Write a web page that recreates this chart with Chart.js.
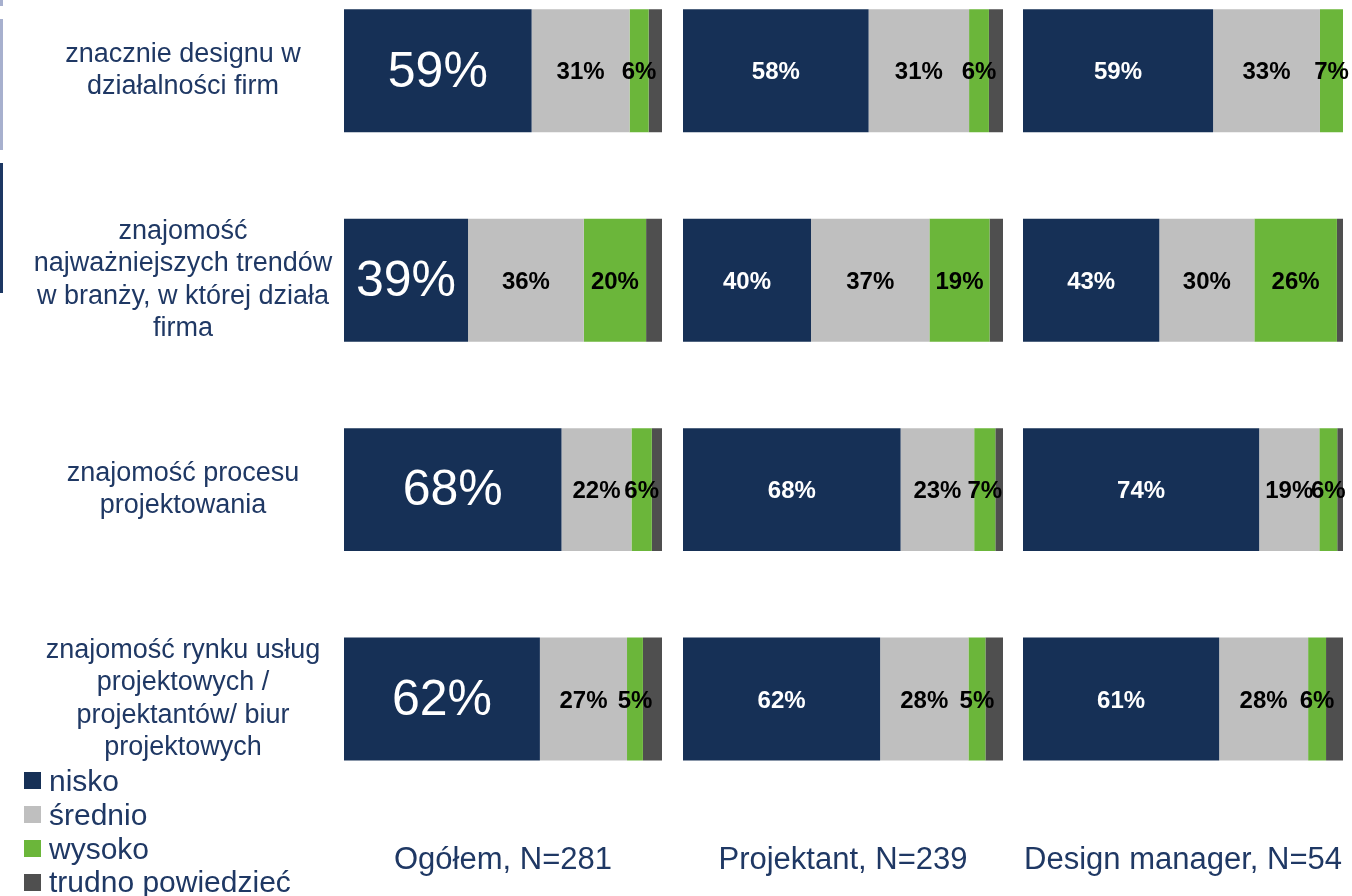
<!DOCTYPE html>
<html><head><meta charset="utf-8">
<script src="https://cdn.jsdelivr.net/npm/chart.js@4/dist/chart.umd.min.js"></script>
<style>
html,body{margin:0;padding:0;background:#fff;width:1352px;height:896px;overflow:hidden;position:relative;font-family:"Liberation Sans",Arial,sans-serif;}
.box{position:absolute;}
.deco{position:absolute;left:0;width:3px;}
#legend{position:absolute;left:24px;top:764px;color:#1F3864;font-size:30px;}
#legend div{display:flex;align-items:center;height:33.8px;white-space:nowrap;}
#legend span.sw{width:17px;height:17px;margin-right:8px;display:inline-block;flex:none;}
</style></head><body>
<div class="deco" style="top:0;height:6px;background:#A7B0CE"></div>
<div class="deco" style="top:19px;height:131px;background:#A7B0CE"></div>
<div class="deco" style="top:163px;height:130px;background:#1C3763"></div>
<div class="box" style="left:0;top:-34px;width:672px;height:930px"><canvas id="c1"></canvas></div>
<div class="box" style="left:673px;top:-34px;width:340px;height:930px"><canvas id="c2"></canvas></div>
<div class="box" style="left:1013px;top:-34px;width:339px;height:930px"><canvas id="c3"></canvas></div>
<div id="legend"></div>
<script>
const categories = [
  ["znacznie designu w", "działalności firm"],
  ["znajomość", "najważniejszych trendów", "w branży, w której działa", "firma"],
  ["znajomość procesu", "projektowania"],
  ["znajomość rynku usług", "projektowych /", "projektantów/ biur", "projektowych"]
];
const panelTitles = ["Ogółem, N=281", "Projektant, N=239", "Design manager, N=54"];
const seriesNames = ["nisko", "średnio", "wysoko", "trudno powiedzieć"];

const ogolemNisko   = [59, 39, 68.4, 61.6];
const ogolemSrednio = [30.8, 36.4, 22, 27.4];
const ogolemWysoko  = [6, 19.6, 6.4, 5];
const ogolemTrudno  = [4.2, 5, 3.2, 6];

const projektantNisko   = [58, 40, 68, 61.6];
const projektantSrednio = [31.4, 37, 23, 27.6];
const projektantWysoko  = [6.2, 18.8, 6.6, 5.3];
const projektantTrudno  = [4.4, 4.2, 2.4, 5.5];

const managerNisko   = [59.4, 42.6, 73.8, 61.3];
const managerSrednio = [33.4, 29.7, 18.8, 27.8];
const managerWysoko  = [7.2, 25.8, 5.6, 5.6];
const managerTrudno  = [0, 1.9, 1.8, 5.3];

const colors = ["#163056", "#BFBFBF", "#6BB63A", "#4F4F4F"];
const textColor = "#1F3864";
const FONT = '"Liberation Sans", Arial, sans-serif';

// legend (HTML)
const lg = document.getElementById('legend');
seriesNames.forEach((n, i) => {
  const d = document.createElement('div');
  d.innerHTML = '<span class="sw" style="background:' + colors[i] + '"></span>' + n;
  lg.appendChild(d);
});

const segLabels = {
  id: 'segLabels',
  afterDatasetsDraw(chart, args, opts) {
    const ctx = chart.ctx;
    chart.data.datasets.forEach((ds, di) => {
      if (di > 2) return;
      const meta = chart.getDatasetMeta(di);
      meta.data.forEach((el, i) => {
        const v = ds.data[i];
        if (!v) return;
        const cx = (el.x + el.base) / 2;
        const big = di === 0 && opts.bigFirst;
        ctx.save();
        ctx.font = big ? ('50px ' + FONT) : ('bold 24px ' + FONT);
        ctx.fillStyle = di === 0 ? '#FFFFFF' : '#000000';
        ctx.textAlign = 'center';
        ctx.textBaseline = 'middle';
        ctx.fillText(Math.round(v) + '%', cx, el.y + 2);
        ctx.restore();
      });
    });
  }
};

const LABEL_SIZE = 27;
const mctx = document.createElement('canvas').getContext('2d');
mctx.font = LABEL_SIZE + 'px ' + FONT;
let widest = 0;
categories.forEach(c => c.forEach(l => { widest = Math.max(widest, mctx.measureText(l).width); }));
const yPad = Math.max(0, 344 - 183 - widest / 2);

function makeChart(id, data, title, first, padL, padR) {
  const datasets = seriesNames.map((n, i) => ({
    label: n,
    data: data[i],
    backgroundColor: colors[i],
    borderWidth: 0,
    categoryPercentage: 1,
    barPercentage: 0.587
  }));
  const yScale = {
    stacked: true,
    display: first,
    grid: { display: false, drawTicks: false },
    border: { display: false },
    ticks: {
      color: textColor,
      font: { family: FONT, size: LABEL_SIZE, lineHeight: 1.2 },
      crossAlign: 'center',
      padding: yPad,
      autoSkip: false
    }
  };
  if (first) {
    yScale.afterFit = s => { s.width = 344; s.paddingTop = 0; s.paddingBottom = 0; };
  }
  return new Chart(document.getElementById(id), {
    type: 'bar',
    data: { labels: categories, datasets },
    plugins: [segLabels],
    options: {
      indexAxis: 'y',
      responsive: true,
      maintainAspectRatio: false,
      animation: false,
      devicePixelRatio: 1,
      layout: { padding: { left: padL, right: padR, top: 0, bottom: 0 } },
      plugins: {
        legend: { display: false },
        tooltip: { enabled: false },
        segLabels: { bigFirst: first }
      },
      scales: {
        x: {
          stacked: true, min: 0, max: 100,
          grid: { display: false, drawTicks: false },
          border: { display: false },
          ticks: { display: false },
          title: {
            display: true, text: title, color: textColor,
            font: { family: FONT, size: 31 },
            padding: { top: 38, bottom: 17 }
          }
        },
        y: yScale
      }
    }
  });
}

makeChart('c1', [ogolemNisko, ogolemSrednio, ogolemWysoko, ogolemTrudno], panelTitles[0], true, 0, 10);
makeChart('c2', [projektantNisko, projektantSrednio, projektantWysoko, projektantTrudno], panelTitles[1], false, 10, 10);
makeChart('c3', [managerNisko, managerSrednio, managerWysoko, managerTrudno], panelTitles[2], false, 10, 9);
</script>
</body></html>
